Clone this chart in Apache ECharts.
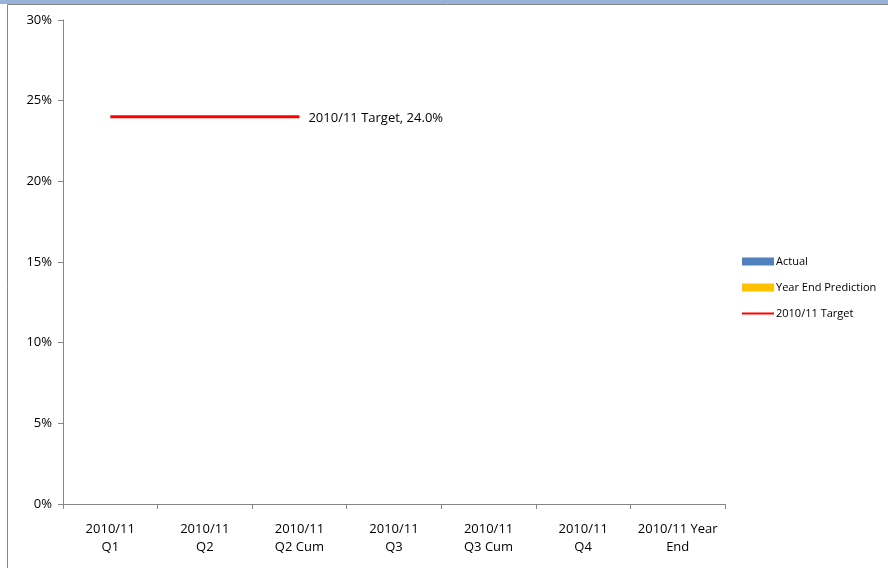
<!DOCTYPE html>
<html>
<head>
<meta charset="utf-8">
<script src="https://cdn.jsdelivr.net/npm/echarts@6/dist/echarts.min.js"></script>
<style>
html,body{margin:0;padding:0;background:#fff;}
#chart{width:888px;height:568px;}
</style>
</head>
<body>
<div id="chart"></div>
<script>
//数据
var categories = ['2010/11\nQ1','2010/11\nQ2','2010/11\nQ2 Cum','2010/11\nQ3','2010/11\nQ3 Cum','2010/11\nQ4','2010/11 Year\nEnd'];
var actual = ['-','-','-','-','-','-','-'];
var prediction = ['-','-','-','-','-','-','-'];
var target = [24.0, 24.0, 24.0, '-', '-', '-', '-'];

var font = 'Open Sans';
var chart = echarts.init(document.getElementById('chart'));
var option = {
	backgroundColor: '#fff',
	animation: false,
	textStyle: {fontFamily: font},
	graphic: [{
		//上方蓝条
		type: 'rect',
		shape: {x: 0, y: 0, width: 888, height: 4},
		style: {fill: '#95b3d7'}
	}, {
		//外框
		type: 'polyline',
		shape: {points: [[7.5, 568], [7.5, 4.5], [888, 4.5]]},
		style: {stroke: '#868686', lineWidth: 1, fill: null}
	}],
	legend: {
		orient: 'vertical',
		left: 736,
		top: 251,
		itemGap: 15,
		itemWidth: 32,
		itemHeight: 8,
		textStyle: {fontSize: 11, color: '#000', fontFamily: font, padding: [0, 0, 0, -3]},
		data: [
			{name: 'Actual', icon: 'rect'},
			{name: 'Year End Prediction', icon: 'rect'},
			{name: '2010/11 Target', itemStyle: {opacity: 0}, lineStyle: {width: 2, color: '#ff0000'}}
		]
	},
	grid: {left: 63, right: 163, top: 20, bottom: 64},
	xAxis: {
		type: 'category',
		data: categories,
		axisLine: {lineStyle: {color: '#868686'}},
		axisTick: {show: true, length: 5, lineStyle: {color: '#868686'}},
		axisLabel: {color: '#000', fontSize: 13, margin: 16, lineHeight: 18, interval: 0}
	},
	yAxis: {
		type: 'value',
		min: 0,
		max: 30,
		interval: 5,
		axisLine: {show: true, lineStyle: {color: '#868686'}},
		axisTick: {show: true, length: 5, lineStyle: {color: '#868686'}},
		splitLine: {show: false},
		axisLabel: {color: '#000', fontSize: 13, margin: 11, formatter: '{value}%'}
	},
	series: [{
		name: 'Actual',
		type: 'bar',
		itemStyle: {color: '#4f81bd'},
		data: actual
	}, {
		name: 'Year End Prediction',
		type: 'bar',
		itemStyle: {color: '#ffc000'},
		data: prediction
	}, {
		name: '2010/11 Target',
		type: 'line',
		symbol: 'none',
		lineStyle: {color: '#ff0000', width: 3},
		itemStyle: {color: '#ff0000'},
		endLabel: {
			show: true,
			distance: 9,
			color: '#000',
			fontSize: 13,
			fontFamily: font,
			offset: [0, 1],
			formatter: function (p) {
				return p.seriesName + ', ' + Number(p.value).toFixed(1) + '%';
			}
		},
		data: target
	}]
};
chart.setOption(option);
</script>
</body>
</html>
